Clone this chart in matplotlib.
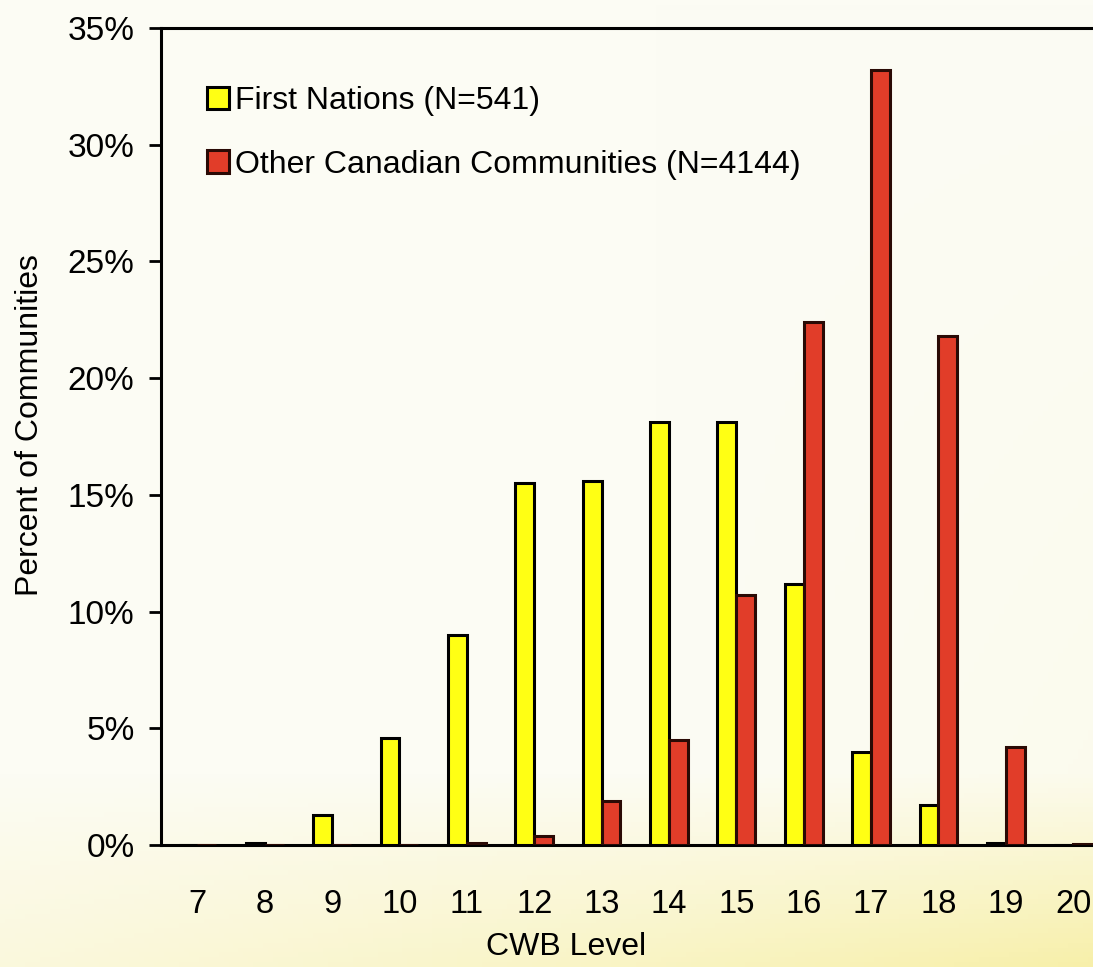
import matplotlib.pyplot as plt
import numpy as np
from matplotlib.ticker import PercentFormatter

plt.rcParams['font.family'] = ['Liberation Sans Narrow', 'Liberation Sans', 'DejaVu Sans']

cwb_levels = [7, 8, 9, 10, 11, 12, 13, 14, 15, 16, 17, 18, 19, 20]
first_nations = [0.0, 0.1, 1.3, 4.6, 9.0, 15.5, 15.6, 18.1, 18.1, 11.2, 4.0, 1.7, 0.1, 0.0]
other_communities = [0.0, 0.0, 0.0, 0.0, 0.1, 0.4, 1.9, 4.5, 10.7, 22.4, 33.2, 21.8, 4.2, 0.05]

W, H = 1093, 967
fig = plt.figure(figsize=(W / 100, H / 100), dpi=100)

# paper background: cream, turning pale yellow toward the bottom right
bg_ax = fig.add_axes([0, 0, 1, 1], zorder=-10)
gx, gy = np.meshgrid(np.linspace(0, 1, 220), np.linspace(0, 1, 200))
t = np.clip((gy - 0.80) / 0.20, 0, 1) * (0.35 + 0.65 * gx) + 0.12 * np.clip((gx - 0.6) / 0.4, 0, 1) * gy
cream = np.array([252, 252, 244]) / 255
pale = np.array([248, 241, 178]) / 255
img = cream[None, None, :] * (1 - t[..., None]) + pale[None, None, :] * t[..., None]
bg_ax.imshow(img, aspect="auto", extent=[0, 1, 0, 1], origin="upper")
bg_ax.axis("off")

ax = fig.add_axes([161 / W, 1 - 845 / H, (W - 161) / W + 0.001, (845 - 28) / H])
ax.set_facecolor("none")

x = np.arange(len(cwb_levels))
w = 0.28
ax.bar(x - w / 2, first_nations, w, color="#ffff14", edgecolor="black", linewidth=2.2,
       label="First Nations (N=541)", zorder=3)
ax.bar(x + w / 2, other_communities, w, color="#e13d29", edgecolor="#2a0a05", linewidth=2.2,
       label="Other Canadian Communities (N=4144)", zorder=3)

ax.set_xlim(-0.54, 13.31)
ax.set_ylim(0, 35)
ax.set_yticks(range(0, 36, 5))
ax.yaxis.set_major_formatter(PercentFormatter(decimals=0))
ax.set_xticks(x)
ax.set_xticklabels([str(v) for v in cwb_levels])

for s in ["left", "bottom", "top"]:
    ax.spines[s].set_linewidth(2.2)
ax.spines["right"].set_visible(False)
ax.tick_params(axis="y", length=9, width=2, labelsize=24, pad=10)
ax.tick_params(axis="x", length=0, labelsize=23.5, pad=32)

ax.set_ylabel("Percent of Communities", fontsize=23)
ax.yaxis.set_label_coords(-0.124, 0.514)
ax.set_xlabel("CWB Level", fontsize=23)
ax.xaxis.set_label_coords((566 - 161) / (W - 161), -0.106)

ax.legend(loc="upper left", bbox_to_anchor=(0.049, 0.929), frameon=False, fontsize=23,
          handlelength=0.7, handleheight=0.7, handletextpad=0.2, labelspacing=1.05,
          borderpad=0, borderaxespad=0)

fig.savefig("out.png", dpi=100)
